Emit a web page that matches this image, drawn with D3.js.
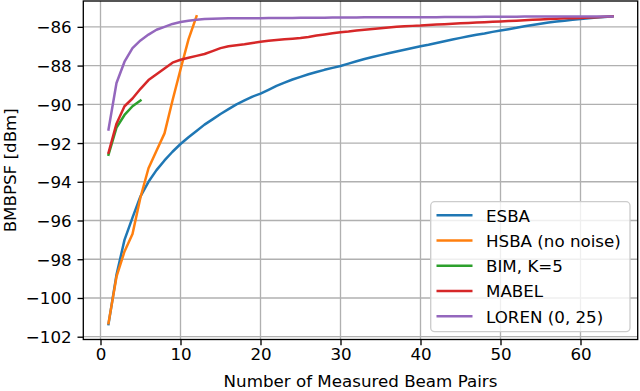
<!DOCTYPE html>
<html><head><meta charset="utf-8">
<script src="https://cdn.jsdelivr.net/npm/d3@7"></script>
<style>body{margin:0;background:#fff}svg{display:block}text{font-family:"DejaVu Sans",sans-serif;fill:#000}</style>
</head><body><div id="c"></div>
<script>
const seriesNames = ["ESBA", "HSBA (no noise)", "BIM, K=5", "MABEL", "LOREN (0, 25)"];
const seriesColors = ["#1f77b4", "#ff7f0e", "#2ca02c", "#d62728", "#9467bd"];
const esba = [-101.35,-98.8,-97.0,-95.85,-94.75,-94.0,-93.4,-92.9,-92.45,-92.05,-91.7,-91.38,-91.05,-90.78,-90.5,-90.25,-90.0,-89.8,-89.6,-89.45,-89.25,-89.05,-88.88,-88.72,-88.58,-88.45,-88.33,-88.22,-88.12,-88.02,-87.9,-87.78,-87.66,-87.56,-87.46,-87.36,-87.27,-87.18,-87.09,-87.0,-86.92,-86.83,-86.74,-86.65,-86.57,-86.49,-86.41,-86.34,-86.26,-86.19,-86.12,-86.05,-85.97,-85.9,-85.84,-85.78,-85.73,-85.68,-85.63,-85.59,-85.56,-85.52,-85.49,-85.46];
const hsba = [-101.3,-98.9,-97.6,-96.7,-94.8,-93.3,-92.4,-91.5,-89.8,-88.2,-86.65,-85.46];
const bim = [-92.6,-91.2,-90.55,-90.1,-89.8];
const mabel = [-92.5,-91.0,-90.1,-89.7,-89.2,-88.75,-88.45,-88.15,-87.85,-87.7,-87.6,-87.5,-87.4,-87.25,-87.1,-87.0,-86.95,-86.9,-86.83,-86.77,-86.72,-86.68,-86.64,-86.61,-86.58,-86.52,-86.45,-86.39,-86.33,-86.28,-86.24,-86.19,-86.15,-86.11,-86.07,-86.03,-86.0,-85.97,-85.95,-85.93,-85.9,-85.88,-85.86,-85.84,-85.82,-85.8,-85.78,-85.76,-85.74,-85.72,-85.7,-85.68,-85.66,-85.64,-85.62,-85.6,-85.58,-85.56,-85.55,-85.54,-85.52,-85.5,-85.48,-85.46];
const loren = [-91.3,-88.9,-87.8,-87.1,-86.7,-86.4,-86.15,-86.0,-85.85,-85.75,-85.68,-85.63,-85.6,-85.58,-85.57,-85.56,-85.56,-85.55,-85.55,-85.55,-85.54,-85.54,-85.54,-85.54,-85.53,-85.53,-85.53,-85.53,-85.52,-85.52,-85.52,-85.52,-85.51,-85.51,-85.51,-85.51,-85.5,-85.5,-85.5,-85.5,-85.5,-85.5,-85.49,-85.49,-85.49,-85.49,-85.49,-85.48,-85.48,-85.48,-85.48,-85.48,-85.47,-85.47,-85.47,-85.47,-85.47,-85.47,-85.46,-85.46,-85.46,-85.46,-85.46,-85.46];
const xTicks = [0,10,20,30,40,50,60];
const yTicks = [-102,-100,-98,-96,-94,-92,-90,-88,-86];
const xLabel = "Number of Measured Beam Pairs";
const yLabel = "BMBPSF [dBm]";

const allSeries = [esba, hsba, bim, mabel, loren];
const W = 640, H = 391;
const m = {l: 83.3, r: 2.3, t: 1, b: 51.5};
const fs = 16.7;
const svg = d3.select("#c").append("svg").attr("width", W).attr("height", H);

const allVals = allSeries.flat();
const xMin = 1, xMax = d3.max(allSeries, s => s.length);
const yMin = d3.min(allVals), yMax = d3.max(allVals);
const xPad = (xMax - xMin) * 0.05, yPad = (yMax - yMin) * 0.05;
const x = d3.scaleLinear().domain([xMin - xPad, xMax + xPad]).range([m.l, W - m.r]);
const y = d3.scaleLinear().domain([yMin - yPad, yMax + yPad]).range([H - m.b, m.t]);

// grid
const g = svg.append("g");
g.selectAll(".gx").data(xTicks).join("line")
  .attr("x1", d => x(d)).attr("x2", d => x(d)).attr("y1", m.t).attr("y2", H - m.b)
  .attr("stroke", "#b0b0b0").attr("stroke-width", 1.33);
g.selectAll(".gy").data(yTicks).join("line")
  .attr("y1", d => y(d)).attr("y2", d => y(d)).attr("x1", m.l).attr("x2", W - m.r)
  .attr("stroke", "#b0b0b0").attr("stroke-width", 1.33);

// lines
const line = d3.line().x((d, i) => x(i + 1)).y(d => y(d));
allSeries.forEach((s, k) => {
  svg.append("path").datum(s).attr("d", line).attr("fill", "none")
    .attr("stroke", seriesColors[k]).attr("stroke-width", 2.5)
    .attr("stroke-linejoin", "round").attr("stroke-linecap", "square");
});

// axes
const fmt = d => d < 0 ? "\u2212" + Math.abs(d) : String(d);
const xa = svg.append("g").attr("transform", `translate(0,${H - m.b})`)
  .call(d3.axisBottom(x).tickValues(xTicks).tickFormat(fmt).tickSize(5.8).tickPadding(5.8));
const ya = svg.append("g").attr("transform", `translate(${m.l},0)`)
  .call(d3.axisLeft(y).tickValues(yTicks).tickFormat(fmt).tickSize(5.8).tickPadding(5.8));
[xa, ya].forEach(a => {
  a.select(".domain").remove();
  a.selectAll("line").attr("stroke", "#000").attr("stroke-width", 1.33);
  a.selectAll("text").attr("font-family", "DejaVu Sans").attr("font-size", fs).attr("fill", "#000");
});
xa.selectAll("text").attr("dy", "0.72em").attr("y", 8.3);
ya.selectAll("text").attr("dy", "0.36em");

// frame
svg.append("rect").attr("x", m.l).attr("y", m.t).attr("width", W - m.r - m.l).attr("height", H - m.b - m.t)
  .attr("fill", "none").attr("stroke", "#000").attr("stroke-width", 1.33);

// labels
svg.append("text").attr("x", (m.l + W - m.r) / 2).attr("y", 387).attr("text-anchor", "middle")
  .attr("font-size", fs).text(xLabel);
svg.append("text").attr("transform", `translate(15.5,${(m.t + H - m.b) / 2}) rotate(-90)`)
  .attr("text-anchor", "middle").attr("font-size", fs).text(yLabel);

// legend
const lg = svg.append("g");
lg.append("rect").attr("x", 430.7).attr("y", 201.7).attr("width", 199.3).attr("height", 130)
  .attr("rx", 4).attr("fill", "#fff").attr("fill-opacity", 0.8).attr("stroke", "#cccccc").attr("stroke-width", 1.33);
seriesNames.forEach((n, k) => {
  const cy = 215.3 + k * 25.25;
  lg.append("line").attr("x1", 436.5).attr("x2", 472.5).attr("y1", cy).attr("y2", cy)
    .attr("stroke", seriesColors[k]).attr("stroke-width", 2.5);
  lg.append("text").attr("x", 486).attr("y", cy + 6.2).attr("font-size", fs).text(n);
});
</script></body></html>
